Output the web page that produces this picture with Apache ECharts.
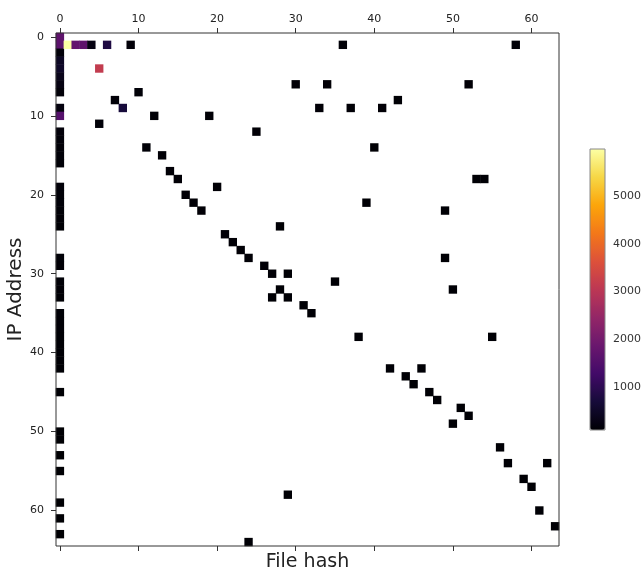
<!DOCTYPE html>
<html>
<head>
<meta charset="utf-8">
<title>IP Address vs File hash</title>
<script src="https://cdn.jsdelivr.net/npm/echarts@6/dist/echarts.min.js"></script>
<style>
    html, body { margin: 0; padding: 0; background: #fff; }
    #chart { width: 644px; height: 572px; }
</style>
</head>
<body>
<div id="chart"></div>
<script>
// categories
let fileHashes = [];
for (let i = 0; i < 64; i++) fileHashes.push(String(i));
let ipAddresses = [];
for (let i = 0; i < 65; i++) ipAddresses.push(String(i));

// colorbar range and ticks
let countMin = 90;
let countMax = 5990;
let colorbarTicks = [1000, 2000, 3000, 4000, 5000];

// inferno colour map
let inferno = ['#000004', '#160b39', '#420a68', '#6a176e', '#932667', '#bc3754',
    '#dd513a', '#f37819', '#fca50a', '#f6d746', '#fcffa4'];

// column 0: [row, count]
let firstColumn = [
    [0, 1700], [1, 1650], [2, 150], [3, 450], [4, 500], [5, 350], [6, 250], [7, 150],
    [9, 200], [10, 1550], [12, 160], [13, 150], [14, 140], [15, 130], [16, 120],
    [19, 150], [20, 140], [21, 130], [22, 120], [23, 110], [24, 100],
    [28, 120], [29, 110], [31, 120], [32, 110], [33, 100],
    [35, 120], [36, 110], [37, 110], [38, 100], [39, 100], [40, 100], [41, 100], [42, 100],
    [45, 95], [50, 95], [51, 95], [53, 90], [55, 90], [59, 90], [61, 90], [63, 90]
];

// everything else: [file hash, ip address, count]
let otherCells = [
    [1, 1, 5990], [2, 1, 1750], [3, 1, 1700], [4, 1, 250], [6, 1, 800], [9, 1, 150],
    [36, 1, 120], [58, 1, 120], [5, 4, 3150],
    [30, 6, 110], [34, 6, 110], [52, 6, 110], [10, 7, 130], [7, 8, 140], [43, 8, 100],
    [8, 9, 700], [33, 9, 110], [37, 9, 110], [41, 9, 110], [12, 10, 120], [19, 10, 110],
    [5, 11, 130], [25, 12, 110], [11, 14, 120], [40, 14, 100], [13, 15, 110],
    [14, 17, 110], [15, 18, 110], [53, 18, 100], [54, 18, 100], [20, 19, 110],
    [16, 20, 110], [17, 21, 110], [39, 21, 100], [18, 22, 110], [49, 22, 100],
    [28, 24, 100], [21, 25, 110], [22, 26, 110], [23, 27, 110], [24, 28, 110], [49, 28, 100],
    [26, 29, 110], [27, 30, 110], [29, 30, 100], [35, 31, 100], [28, 32, 100], [50, 32, 100],
    [27, 33, 100], [29, 33, 100], [31, 34, 100], [32, 35, 100], [38, 38, 100], [55, 38, 100],
    [42, 42, 100], [46, 42, 100], [44, 43, 100], [45, 44, 100], [47, 45, 100], [48, 46, 100],
    [51, 47, 100], [52, 48, 100], [50, 49, 100], [56, 52, 100], [57, 54, 100], [62, 54, 100],
    [59, 56, 100], [60, 57, 100], [29, 58, 100], [61, 60, 100], [63, 62, 100], [24, 64, 100]
];

var heatmapChart = echarts.init(document.getElementById('chart'));

let heatData = firstColumn.map((d) => [0, d[0], d[1]]).concat(otherCells);
let everyTen = (index) => index % 10 === 0;
let fontFamily = 'DejaVu Sans';

let option = {
    backgroundColor: '#fff',
    animation: false,
    textStyle: {fontFamily: fontFamily},
    grid: [
        {
            left: 56, top: 33, width: 503, height: 513,
            outerBoundsMode: 'none',
            show: true, borderColor: '#333', borderWidth: 1, z: 5
        },
        {
            // colorbar frame + tick axis
            left: 590, top: 149, width: 15, height: 281,
            outerBoundsMode: 'none',
            show: true, borderColor: '#888', borderWidth: 1, z: 10
        }
    ],
    xAxis: [
        {
            type: 'category',
            gridIndex: 0,
            position: 'top',
            data: fileHashes,
            axisLine: {show: false},
            axisTick: {show: true, interval: everyTen, alignWithLabel: true, length: 5, lineStyle: {color: '#333'}},
            axisLabel: {interval: everyTen, margin: 8, fontSize: 11, color: '#222'},
            splitLine: {show: false}
        },
        {
            type: 'category',
            gridIndex: 0,
            position: 'bottom',
            data: fileHashes,
            name: 'File hash',
            nameLocation: 'middle',
            nameGap: 7,
            nameMoveOverlap: false,
            nameTextStyle: {fontSize: 19, color: '#222', verticalAlign: 'top'},
            axisLine: {show: false},
            axisTick: {show: true, interval: everyTen, alignWithLabel: true, length: 5, lineStyle: {color: '#333'}},
            axisLabel: {show: false},
            splitLine: {show: false}
        },
        {
            type: 'value',
            gridIndex: 1,
            show: false
        }
    ],
    yAxis: [
        {
            type: 'category',
            gridIndex: 0,
            inverse: true,
            data: ipAddresses,
            name: 'IP Address',
            nameLocation: 'middle',
            nameGap: 30,
            nameMoveOverlap: false,
            nameTextStyle: {fontSize: 20, color: '#222'},
            axisLine: {show: false},
            axisTick: {show: true, interval: everyTen, alignWithLabel: true, length: 5, lineStyle: {color: '#333'}},
            axisLabel: {interval: everyTen, margin: 12, fontSize: 11, color: '#222'},
            splitLine: {show: false}
        },
        {
            type: 'value',
            gridIndex: 1,
            position: 'right',
            min: countMin,
            max: countMax,
            axisLine: {show: false},
            axisTick: {show: true, customValues: colorbarTicks, length: 4, lineStyle: {color: '#555'}},
            axisLabel: {
                customValues: colorbarTicks, margin: 8, fontSize: 11, color: '#333',
                formatter: (v) => String(v)
            },
            splitLine: {show: false}
        }
    ],
    visualMap: {
        type: 'continuous',
        min: countMin,
        max: countMax,
        seriesIndex: 0,
        calculable: false,
        orient: 'vertical',
        left: 590,
        top: 149,
        padding: 0,
        itemWidth: 15,
        itemHeight: 281,
        inRange: {color: inferno}
    },
    series: [
        {
            type: 'heatmap',
            xAxisIndex: 0,
            yAxisIndex: 0,
            data: heatData,
            emphasis: {disabled: true}
        }
    ]
};

heatmapChart.setOption(option);
</script>
</body>
</html>
